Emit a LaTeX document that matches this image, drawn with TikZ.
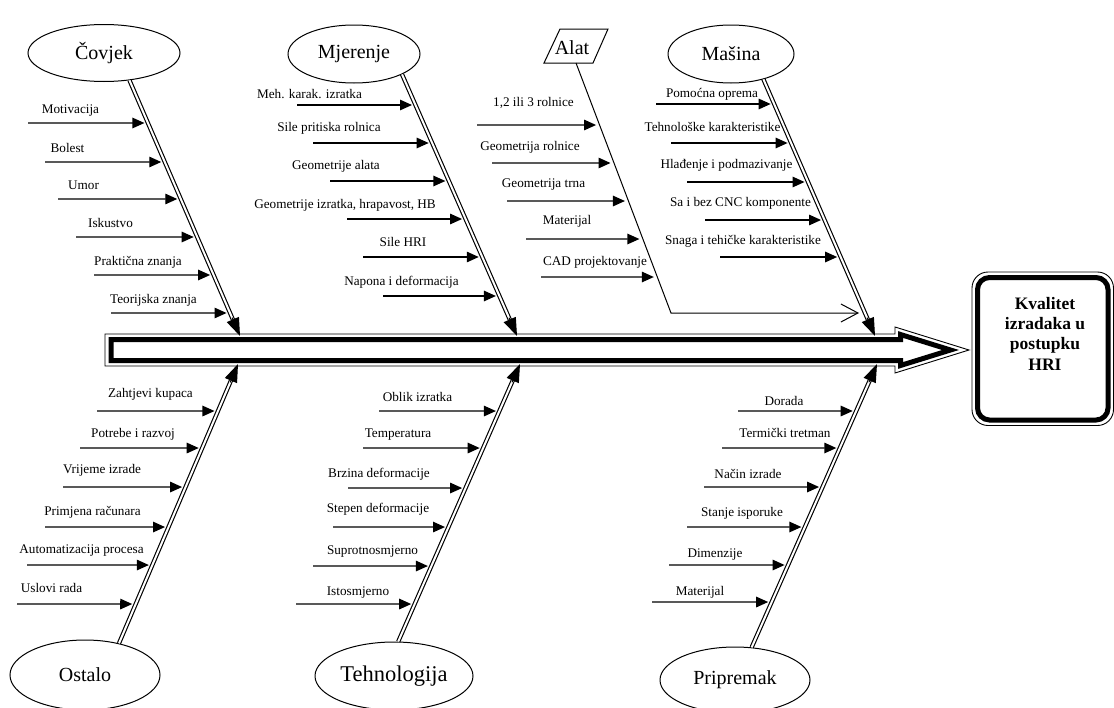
\documentclass[tikz,border=0pt]{standalone}
\usepackage{fontspec}
\setmainfont{Liberation Serif}
\usetikzlibrary{shapes.geometric,arrows.meta,calc}
\newcommand\cz[8]{%
  \coordinate (#1s) at (#4,#5);
  \coordinate (#1h) at (#4+10,#5);
  \coordinate (#1e) at (intersection of #1s--#1h and #2--#3);
  \draw[cause] (#1s) -- (#1e);
  \node[lbl] (#1l) at (#6,#7) {#8};
}
\newcommand\bonedraw[2]{%
  \draw[boneln] (#1) -- ($(#2)!14pt!(#1)$);
  \draw[bonetip] ($(#2)!20pt!(#1)$) -- (#2);
}
\begin{document}
\begin{tikzpicture}[x=1pt,y=-1pt,
  lbl/.style={inner sep=0pt, anchor=base, font=\fontsize{13.2}{15}\selectfont},
  cause/.style={line width=1.3pt, -{Triangle[length=12pt,width=10.5pt]}, shorten >=3.5pt},
  cat/.style={draw, ellipse, line width=1pt, inner sep=0pt, font=\fontsize{20}{24}\selectfont},
  boneln/.style={double, double distance=2pt, line width=1.15pt},
  bonetip/.style={line width=1pt, -{Triangle[length=18pt,width=13pt]}},
]
\useasboundingbox (0,0) rectangle (1114,707);

% main arrow
\draw[line width=0.9pt] (105,334) -- (895,334) -- (895,327) -- (969,350) -- (895,373) -- (895,366) -- (105,366) -- cycle;
\draw[line width=5pt, miter limit=10] (111,339.5) -- (900.5,339.5) -- (900.5,334.5) -- (950.5,350) -- (900.5,365.5) -- (900.5,360.5) -- (111,360.5) -- cycle;

% head
\node[draw, line width=5pt, rounded corners=12pt, minimum width=130.5pt, minimum height=142.5pt, inner sep=0pt, outer sep=0pt] (head) at (1042.75,348.75) {};
\draw[line width=0.9pt, rounded corners=16pt] ($(head.north west)+(-5.5,-5.5)$) rectangle ($(head.south east)+(5.5,5.5)$);
\node[inner sep=0pt, anchor=north, align=center, font=\bfseries\fontsize{17.5}{20.3}\selectfont] (headtxt) at (1045,297) {Kvalitet\\izradaka u\\postupku\\HRI};

% categories
\node[cat, minimum width=152pt, minimum height=57pt] (Cov) at (104,53) {Čovjek};
\node[cat, minimum width=132pt, minimum height=58pt] (Mje) at (354,54) {Mjerenje};
\node[cat, minimum width=126pt, minimum height=58pt] (Mas) at (731,54) {Mašina};
\node[cat, minimum width=150pt, minimum height=70pt] (Ost) at (85,675) {Ostalo};
\node[cat, minimum width=158pt, minimum height=68pt, font=\fontsize{22.5}{26}\selectfont] (Teh) at (394,676) {Tehnologija};
\node[cat, minimum width=150pt, minimum height=66pt] (Pri) at (735,680) {Pripremak};
\node[inner sep=0pt, font=\fontsize{20}{24}\selectfont] (alat) at (572,48) {Alat};
\draw[line width=1pt] (544,63) -- (560,29) -- (608,29) -- (593,63) -- cycle;

% bones
\coordinate (sC) at (Cov.-47);  \coordinate (tC) at (240,336);
\coordinate (sM) at (Mje.-23);  \coordinate (tM) at (517,336);
\coordinate (sMa) at (Mas.-38); \coordinate (tMa) at (875,336);
\coordinate (sO) at (Ost.43);   \coordinate (tO) at (238,364);
\coordinate (sT) at (Teh.83);   \coordinate (tT) at (520,364);
\coordinate (sP) at (Pri.63);   \coordinate (tP) at (877,364);
\bonedraw{sC}{tC}
\bonedraw{sM}{tM}
\bonedraw{sMa}{tMa}
\bonedraw{sO}{tO}
\bonedraw{sT}{tT}
\bonedraw{sP}{tP}

% Alat line
\coordinate (alatb) at (576,63);
\coordinate (alatc) at (671,313);
\coordinate (alate) at (859,313);
\draw[line width=1pt, -{Straight Barb[length=17pt,width=18pt]}] (alatb) -- (alatc) -- (alate);

% Covjek
\cz{c1}{sC}{tC}{28}{123}{70.5}{113.5}{Motivacija}
\cz{c2}{sC}{tC}{45}{162}{67.5}{152}{Bolest}
\cz{c3}{sC}{tC}{58}{199}{83.5}{189.5}{Umor}
\cz{c4}{sC}{tC}{76}{237}{110.5}{227.5}{Iskustvo}
\cz{c5}{sC}{tC}{94}{275}{138}{265.5}{Praktična znanja}
\cz{c6}{sC}{tC}{111}{313}{153.5}{303.5}{Teorijska znanja}
% Mjerenje
\cz{m1}{sM}{tM}{297}{105}{309.5}{98}{Meh. karak. izratka}
\cz{m2}{sM}{tM}{313}{143}{329}{131}{Sile pritiska rolnica}
\cz{m3}{sM}{tM}{330}{181}{336}{169}{Geometrije alata}
\cz{m4}{sM}{tM}{347}{219}{345}{208}{Geometrije izratka, hrapavost, HB}
\cz{m5}{sM}{tM}{363}{257}{403}{246}{Sile HRI}
\cz{m6}{sM}{tM}{383}{296}{401.5}{285}{Napona i deformacija}
% Alat
\cz{a1}{alatb}{alatc}{477}{125}{533.5}{106}{1,2 ili 3 rolnice}
\cz{a2}{alatb}{alatc}{492}{163}{530}{150}{Geometrija rolnice}
\cz{a3}{alatb}{alatc}{507}{201}{543.5}{187}{Geometrija trna}
\cz{a4}{alatb}{alatc}{526}{239}{567}{224}{Materijal}
\cz{a5}{alatb}{alatc}{541}{277}{595}{265}{CAD projektovanje}
% Masina
\cz{s1}{sMa}{tMa}{656}{104}{712}{97}{Pomoćna oprema}
\cz{s2}{sMa}{tMa}{671}{143}{712.5}{131}{Tehnološke karakteristike}
\cz{s3}{sMa}{tMa}{687}{182}{726.5}{168}{Hlađenje i podmazivanje}
\cz{s4}{sMa}{tMa}{705}{220}{740.5}{206}{Sa i bez CNC komponente}
\cz{s5}{sMa}{tMa}{720}{257}{743}{244}{Snaga i tehičke karakteristike}
% Ostalo
\cz{o1}{sO}{tO}{97}{411}{150.5}{397}{Zahtjevi kupaca}
\cz{o2}{sO}{tO}{80}{448}{133}{437}{Potrebe i razvoj}
\cz{o3}{sO}{tO}{63}{487}{102}{473.5}{Vrijeme izrade}
\cz{o4}{sO}{tO}{45}{527}{92.5}{515.5}{Primjena računara}
\cz{o5}{sO}{tO}{27}{565}{81.5}{553.5}{Automatizacija procesa}
\cz{o6}{sO}{tO}{17}{604}{51.5}{592.5}{Uslovi rada}
% Tehnologija
\cz{t1}{sT}{tT}{379}{411}{417.5}{401}{Oblik izratka}
\cz{t2}{sT}{tT}{363}{448}{398}{437}{Temperatura}
\cz{t3}{sT}{tT}{348}{488}{379}{477}{Brzina deformacije}
\cz{t4}{sT}{tT}{333}{527}{378}{512.5}{Stepen deformacije}
\cz{t5}{sT}{tT}{313}{566}{372.5}{554}{Suprotnosmjerno}
\cz{t6}{sT}{tT}{296}{604}{358}{595}{Istosmjerno}
% Pripremak
\cz{p1}{sP}{tP}{738}{411}{784}{405}{Dorada}
\cz{p2}{sP}{tP}{722}{448}{785}{437.5}{Termički tretman}
\cz{p3}{sP}{tP}{704}{487}{748}{478}{Način izrade}
\cz{p4}{sP}{tP}{687}{527}{742}{516.5}{Stanje isporuke}
\cz{p5}{sP}{tP}{669}{565}{715}{557}{Dimenzije}
\cz{p6}{sP}{tP}{652}{602}{700}{595}{Materijal}
\end{tikzpicture}
\end{document}
